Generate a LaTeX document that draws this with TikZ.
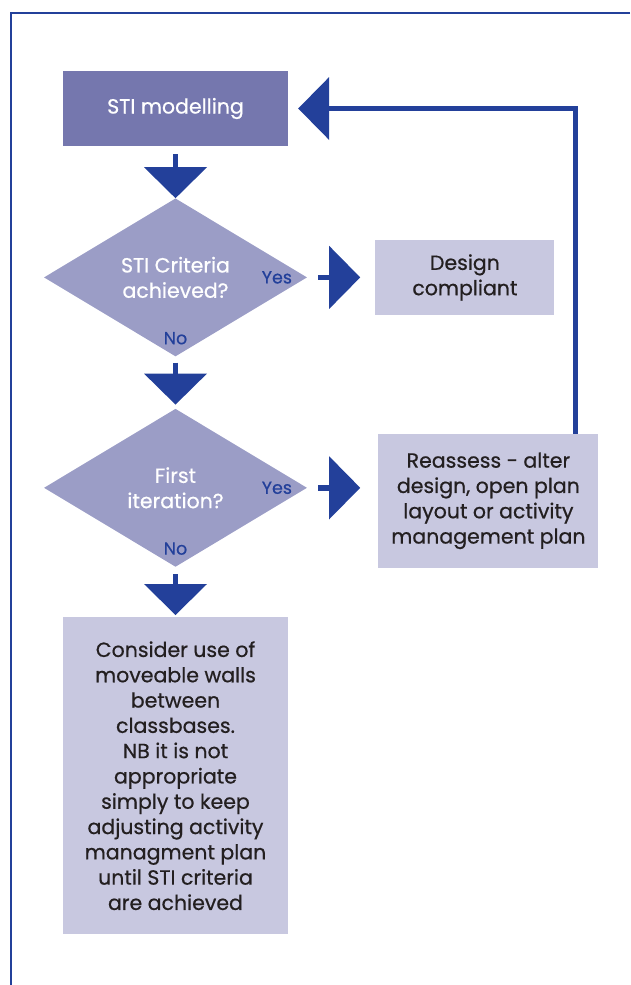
\documentclass[tikz,border=0pt]{standalone}
\usepackage{fontspec}
\setmainfont{Poppins}[FakeBold=0.6]
\usepackage{tikz}
\usetikzlibrary{shapes.geometric, arrows.meta, positioning, calc}

\definecolor{flowblue}{HTML}{23409A}
\definecolor{stidark}{HTML}{7577AE}
\definecolor{diamfill}{HTML}{9B9DC6}
\definecolor{boxfill}{HTML}{C8C8E0}
\definecolor{textdark}{HTML}{231F20}
\newcommand{\boxfont}{\fontsize{20.5}{25.3}\selectfont}

\begin{document}
\begin{tikzpicture}[
    x=1pt, y=1pt,
    topbox/.style={rectangle, fill=stidark, text=white, minimum width=225pt, minimum height=75pt, align=center, font=\boxfont},
    decision/.style={diamond, aspect=1.66, fill=diamfill, text=white, minimum width=263pt, minimum height=158pt, inner sep=0pt, align=center, font=\boxfont},
    result/.style={rectangle, fill=boxfill, text=textdark, inner sep=0pt, align=center, font=\boxfont},
    lbl/.style={text=flowblue, inner sep=0pt, font=\fontsize{17.5}{19}\selectfont},
    arr/.style={-{Triangle[length=31pt, width=63pt, line width=0pt]}, line width=5.5pt, draw=flowblue},
    node distance=52pt,
]
\useasboundingbox (0,0) rectangle (630,-985);

% frame
\draw[flowblue, line width=2pt] (630,-13) -| (11,-985);

\node[topbox] (sti) at (175.5,-108.5) {STI modelling};
\node[decision, below=52pt of sti] (crit) {STI Criteria\\achieved?};
\node[result, right=68pt of crit, minimum width=179pt, minimum height=75pt] (comp) {Design\\compliant};
\node[decision, below=52pt of crit] (iter) {First\\iteration?};
\node[result, right=71pt of iter, yshift=-13pt, minimum width=220pt, minimum height=134pt] (reass) {Reassess - alter\\design, open plan\\layout or activity\\management plan};
\node[result, below=50pt of iter, minimum width=225pt, minimum height=317pt] (cons) {Consider use of\\moveable walls\\between\\classbases.\\NB it is not\\appropriate\\simply to keep\\adjusting activity\\managment plan\\until STI criteria\\are achieved};

\node[lbl, left=15pt of crit.east] (yes1) {Yes};
\node[lbl, above=12pt of crit.south] (no1) {No};
\node[lbl, left=15pt of iter.east] (yes2) {Yes};
\node[lbl, above=12pt of iter.south] (no2) {No};

\coordinate (back) at ($(reass.north east)+(-23pt,0)$);

\draw[arr, shorten <=8pt] (sti) -- (crit);
\draw[arr, shorten <=11pt, shorten >=15pt] (crit) -- (comp);
\draw[arr, shorten <=6pt, shorten >=4pt] (crit) -- (iter);
\draw[arr, shorten <=11pt, shorten >=18pt] (iter.east) -- (iter.east -| reass.west);
\draw[arr, shorten <=7pt, shorten >=2pt] (iter) -- (cons);
\draw[arr, shorten >=10pt] (back) |- (sti.east);

\end{tikzpicture}
\end{document}
